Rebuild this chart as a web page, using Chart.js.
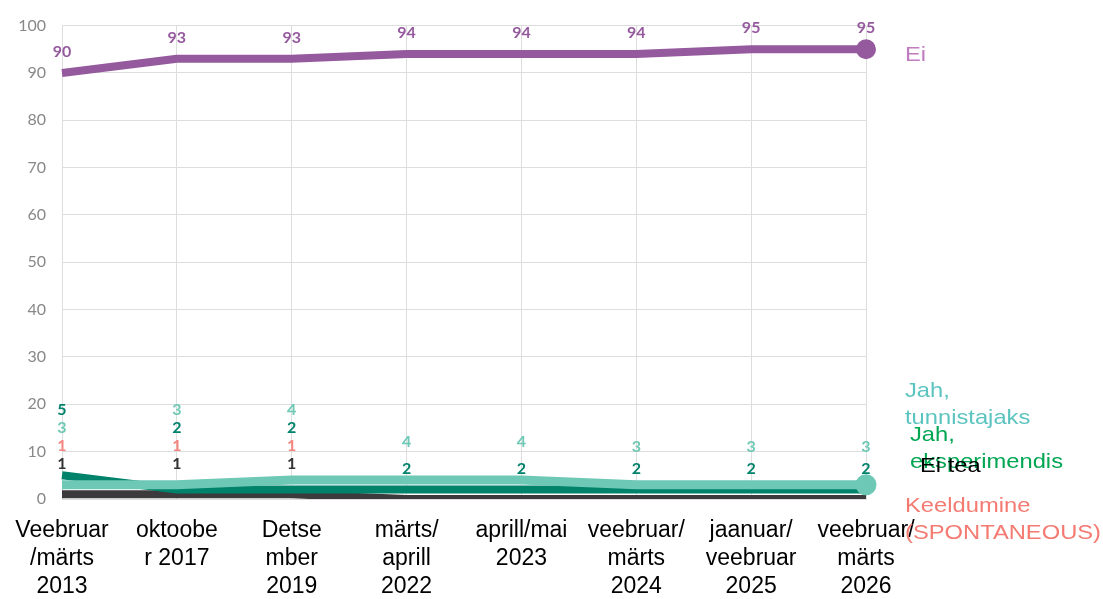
<!DOCTYPE html>
<html>
<head>
<meta charset="utf-8">
<script src="https://cdn.jsdelivr.net/npm/chart.js@4.4.1/dist/chart.umd.min.js"></script>
<style>
  html, body { margin: 0; padding: 0; background: #fff; }
  #wrap { width: 1103px; height: 599px; }
</style>
</head>
<body>
<div id="wrap"><canvas id="graafik" width="1103" height="599"></canvas></div>
<script>
const perioodid = [
  ['Veebruar', '/märts', '2013'],
  ['oktoobe', 'r 2017'],
  ['Detse', 'mber', '2019'],
  ['märts/', 'aprill', '2022'],
  ['aprill/mai', '2023'],
  ['veebruar/', 'märts', '2024'],
  ['jaanuar/', 'veebruar', '2025'],
  ['veebruar/', 'märts', '2026']
];

const ei            = [90, 93, 93, 94, 94, 94, 95, 95];
const tunnistajaks  = [3, 3, 4, 4, 4, 3, 3, 3];
const eksperimendis = [5, 2, 2, 2, 2, 2, 2, 2];
const eiTea         = [1, 1, 1, 0, 0, 0, 0, 0];
const keeldumine    = [1, 1, 1, 0, 0, 0, 0, 0];

const yTicks = [0, 10, 20, 30, 40, 50, 60, 70, 80, 90, 100];

const LILLA = '#955a9e';
const HELE = '#6dc8b5';
const ROHE = '#00826b';
const TUME = '#3c3a3c';
const LOHE = '#f4867f';

// nimed paremal serval
const nimed = [
  { tekst: ['Ei'], varv: '#c07cc0', x: 905, y: 55 },
  { tekst: ['Jah,', 'tunnistajaks'], varv: '#5cc4c0', x: 905, y: 391 },
  { tekst: ['Jah,', 'eksperimendis'], varv: '#00a651', x: 910, y: 435 },
  { tekst: ['Ei tea'], varv: '#000', x: 920, y: 466 },
  { tekst: ['Keeldumine', '(SPONTANEOUS)'], varv: '#f47a72', x: 905, y: 506 }
];

// väikeste väärtuste sildid: järjekord viigi korral (suurem = ülal)
const vaikesed = [
  { andmed: tunnistajaks, varv: HELE, nihe: 38, prio: 3 },
  { andmed: eksperimendis, varv: ROHE, nihe: 21, prio: 4 },
  { andmed: keeldumine, varv: LOHE, nihe: 30, prio: 2 },
  { andmed: eiTea, varv: '#333', nihe: 30, prio: 1 }
];

const sildid = {
  id: 'sildid',
  afterDatasetsDraw(chart) {
    const { ctx, scales: { x, y } } = chart;
    ctx.save();
    ctx.textAlign = 'center';
    ctx.textBaseline = 'middle';
    ctx.font = 'bold 16px Lato';

    // Ei väärtused joone kohal
    ei.forEach((v, i) => {
      ctx.fillStyle = LILLA;
      ctx.fillText(String(v), x.getPixelForValue(i), y.getPixelForValue(v) - 21);
    });

    // ülejäänud sildid virnas, alt üles
    perioodid.forEach((p, i) => {
      const px = x.getPixelForValue(i);
      const rida = vaikesed
        .filter(s => s.andmed[i] > 0)
        .sort((a, b) => (a.andmed[i] - b.andmed[i]) || (a.prio - b.prio));
      let eelmine = Infinity;
      rida.forEach(s => {
        let py = Math.min(y.getPixelForValue(s.andmed[i]) - s.nihe, eelmine - 18);
        eelmine = py;
        ctx.fillStyle = s.varv;
        ctx.fillText(String(s.andmed[i]), px, py);
      });
    });

    // nimed, veidi laiemaks venitatud
    ctx.textAlign = 'left';
    ctx.font = '21px "Liberation Sans", Arial';
    nimed.forEach(n => {
      ctx.fillStyle = n.varv;
      n.tekst.forEach((t, k) => {
        ctx.save();
        ctx.translate(n.x, n.y + k * 27);
        ctx.scale(1.13, 1);
        ctx.fillText(t, 0, 0);
        ctx.restore();
      });
    });
    ctx.restore();
  }
};

const joon = (andmed, varv, laius, lopp) => ({
  data: andmed,
  borderColor: varv,
  backgroundColor: varv,
  borderWidth: laius,
  tension: 0,
  fill: false,
  pointRadius: andmed.map((_, i) => (lopp && i === andmed.length - 1) ? 6 : 0),
  pointHoverRadius: 0,
  borderCapStyle: 'butt',
  borderJoinStyle: 'round'
});

new Chart(document.getElementById('graafik'), {
  type: 'line',
  data: {
    labels: perioodid,
    datasets: [
      joon(ei, LILLA, 8, true),
      joon(tunnistajaks, HELE, 9, true),
      joon(eksperimendis, ROHE, 8, false),
      joon(eiTea, TUME, 8, false),
      joon(keeldumine, LOHE, 6, false)
    ]
  },
  options: {
    responsive: false,
    animation: false,
    events: [],
    layout: { padding: { top: 23, right: 237, left: 0, bottom: 0 } },
    plugins: { legend: { display: false }, tooltip: { enabled: false } },
    scales: {
      x: {
        offset: false,
        grid: { color: '#dddddd', drawTicks: false },
        border: { color: '#dddddd' },
        ticks: {
          color: '#000',
          font: { family: '"Liberation Sans", Arial', size: 23, lineHeight: 1.22 },
          padding: 18,
          maxRotation: 0,
          autoSkip: false
        },
        afterFit(scale) {
          scale.height = 100;
          scale.paddingLeft = 0;
          scale.paddingRight = 0;
        }
      },
      y: {
        min: 0,
        max: 100,
        afterBuildTicks(scale) { scale.ticks = yTicks.map(v => ({ value: v })); },
        grid: { color: '#dddddd', drawTicks: false },
        border: { display: false },
        ticks: {
          color: '#888',
          font: { family: 'Lato', size: 16 },
          padding: 16
        },
        afterFit(scale) { scale.width = 62; }
      }
    }
  },
  plugins: [sildid]
});
</script>
</body>
</html>
